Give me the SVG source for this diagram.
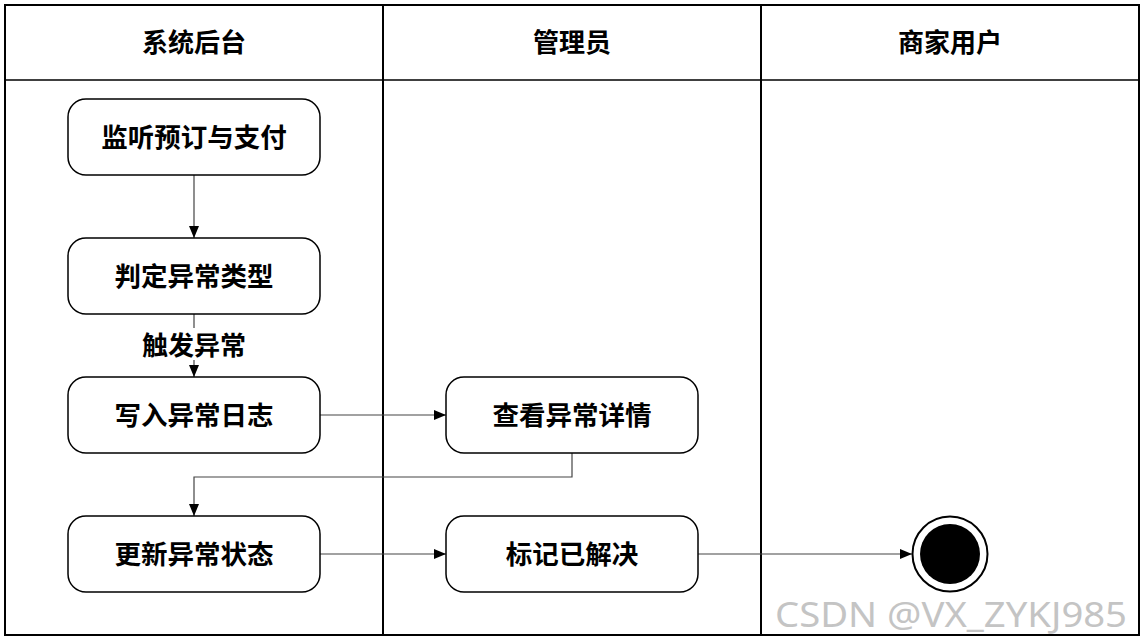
<svg xmlns="http://www.w3.org/2000/svg" width="1144" height="644" viewBox="0 0 1144 644">
<defs>
<marker id="arr" viewBox="0 0 12 10" refX="12" refY="5" markerWidth="12" markerHeight="10" markerUnits="userSpaceOnUse" orient="auto">
<path d="M0,0 L12,5 L0,10 Z" fill="#000"/>
</marker>
<style>
.lane{fill:none;stroke:#000;stroke-width:2}
.hdr{font-family:"Noto Sans CJK SC","Noto Sans",sans-serif;font-weight:bold;font-size:26px;fill:#000;text-anchor:middle}
.node rect{fill:#fff;stroke:#000;stroke-width:1.5}
.node text{font-family:"Noto Sans CJK SC","Noto Sans",sans-serif;font-weight:bold;font-size:26.5px;fill:#000;text-anchor:middle}
.edge{fill:none;stroke:#444;stroke-width:1.2;marker-end:url(#arr)}
.elabel{font-family:"Noto Sans CJK SC","Noto Sans",sans-serif;font-weight:bold;font-size:26px;fill:#000;text-anchor:middle}
</style>
</defs>
<rect x="0" y="0" width="1144" height="644" fill="#fff"/>
<g id="lanes">
<rect class="lane" x="5" y="5" width="1134" height="630"/>
<line class="lane" x1="5" y1="80" x2="1139" y2="80" style="stroke-width:1.5"/>
<line class="lane" x1="383" y1="5" x2="383" y2="635"/>
<line class="lane" x1="761" y1="5" x2="761" y2="635"/>
<text class="hdr" x="194" y="52">系统后台</text>
<text class="hdr" x="572" y="52">管理员</text>
<text class="hdr" x="950" y="52">商家用户</text>
</g>
<g id="connectors">
<path class="edge" d="M194,175 L194,238"/>
<path class="edge" d="M194,314 L194,377"/>
<path class="edge" d="M320,415 L446,415"/>
<path class="edge" d="M572,453 L572,477 L194,477 L194,516"/>
<path class="edge" d="M320,554 L446,554"/>
<path class="edge" d="M698,554 L912,554"/>
<rect x="138" y="328" width="112" height="32" fill="#fff"/>
<text class="elabel" x="194" y="355">触发异常</text>
</g>
<g id="n1" class="node"><rect x="68" y="99" width="252" height="76" rx="18"/><text x="194" y="146.5">监听预订与支付</text></g>
<g id="n2" class="node"><rect x="68" y="238" width="252" height="76" rx="18"/><text x="194" y="285.5">判定异常类型</text></g>
<g id="n3" class="node"><rect x="68" y="377" width="252" height="76" rx="18"/><text x="194" y="424.5">写入异常日志</text></g>
<g id="n4" class="node"><rect x="68" y="516" width="252" height="76" rx="18"/><text x="194" y="563.5">更新异常状态</text></g>
<g id="n5" class="node"><rect x="446" y="377" width="252" height="76" rx="18"/><text x="572" y="424.5">查看异常详情</text></g>
<g id="n6" class="node"><rect x="446" y="516" width="252" height="76" rx="18"/><text x="572" y="563.5">标记已解决</text></g>
<g id="end">
<circle cx="950" cy="554" r="37.5" fill="#fff" stroke="#000" stroke-width="2"/>
<circle cx="950" cy="554" r="30" fill="#000"/>
</g>
<text x="775" y="627" font-family="Noto Sans, sans-serif" font-size="34" fill="#c4c4c4" textLength="352" lengthAdjust="spacingAndGlyphs">CSDN @VX_ZYKJ985</text>
</svg>
